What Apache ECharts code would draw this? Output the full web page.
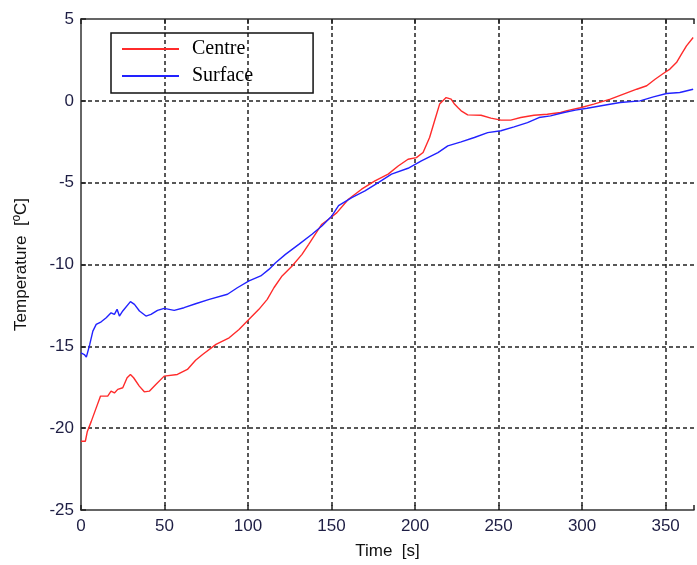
<!DOCTYPE html>
<html>
<head>
<meta charset="utf-8">
<script src="https://cdn.jsdelivr.net/npm/echarts@6/dist/echarts.min.js"></script>
<style>
  html, body { margin: 0; padding: 0; background: #fff; }
  #main { width: 697px; height: 565px; }
</style>
</head>
<body>
<div id="main"></div>
<script>
// data: time [s] and temperature [ºC]
var centreTime = [0, 2.6, 3.8, 6.1, 9.1, 11.7, 16, 18, 20, 22, 25, 27.6, 29.6, 31.5, 34.9, 37.9, 40.9, 44.8, 49.8, 57.7,
    63.7, 68.6, 72.8, 80.8, 88.7, 94.6, 100.6, 106.5, 111.5, 115.5, 120.4, 126.4, 132.3, 136.3, 140.3, 144.2, 150, 153.2,
    160.1, 168, 176, 183.9, 189.9, 195.8, 200.8, 204.8, 208.7, 211.7, 214.7, 218.6, 221.6, 223.6, 225.6, 227.6, 231.5,
    239.5, 245.4, 251.4, 257.3, 263.3, 271.2, 279.2, 287.1, 291, 299, 307, 316.9, 324.8, 332.7, 338.7, 343.7, 348.6,
    352.6, 356.5, 359.5, 362.5, 366.5];
var centreTemp = [-20.8, -20.8, -20.2, -19.6, -18.76, -18.04, -18.04, -17.74, -17.85, -17.63, -17.53, -16.92, -16.72,
    -16.92, -17.43, -17.78, -17.74, -17.33, -16.82, -16.72, -16.41, -15.85, -15.5, -14.88, -14.48, -13.97, -13.35, -12.74,
    -12.13, -11.42, -10.7, -10.09, -9.38, -8.77, -8.15, -7.54, -7.1, -6.83, -6.01, -5.4, -4.89, -4.48, -3.98, -3.57, -3.47,
    -3.16, -2.24, -1.22, -0.2, 0.2, 0.1, -0.2, -0.41, -0.61, -0.86, -0.88, -1.06, -1.18, -1.18, -1.02, -0.88, -0.82, -0.71,
    -0.6, -0.42, -0.2, 0.1, 0.41, 0.71, 0.92, 1.32, 1.67, 1.94, 2.34, 2.85, 3.36, 3.87];

var surfaceTime = [0, 2, 3.2, 5.2, 7.1, 9.1, 12.1, 15.1, 18, 20, 21.6, 23, 25, 29.6, 32, 35, 38.9, 41.9, 45.8, 49.8,
    55.8, 61.7, 68.6, 76.8, 87.7, 93.6, 100.6, 107.6, 112.5, 116.5, 122.4, 130.4, 138.3, 144.2, 150.2, 154.2, 162.1, 170,
    178, 185.9, 195.8, 203.8, 213.7, 219.6, 227.6, 235.5, 243.5, 251.4, 259.3, 267.3, 274.2, 281.1, 289.1, 296, 303,
    314.9, 322.8, 334.7, 342.7, 350.6, 358.5, 366.5];
var surfaceTemp = [-15.4, -15.5, -15.66, -14.9, -14.07, -13.66, -13.5, -13.25, -12.95, -13.05, -12.74, -13.15, -12.84,
    -12.27, -12.44, -12.84, -13.15, -13.05, -12.8, -12.68, -12.8, -12.64, -12.4, -12.13, -11.82, -11.42, -11.0, -10.7,
    -10.3, -9.89, -9.38, -8.77, -8.15, -7.65, -7.03, -6.4, -5.91, -5.5, -5.0, -4.48, -4.12, -3.67, -3.16, -2.75, -2.51,
    -2.24, -1.94, -1.83, -1.59, -1.33, -1.02, -0.92, -0.71, -0.57, -0.45, -0.24, -0.1, 0, 0.24, 0.45, 0.51, 0.71];

var seriesNames = ['Centre', 'Surface'];

function pairs(xs, ys) {
    return xs.map(function (x, i) { return [x, ys[i]]; });
}

var labelColor = '#1e1e44';
var gridLine = { show: true, lineStyle: { color: '#222', width: 1.5, type: [4, 3] } };

var myChart = echarts.init(document.getElementById('main'));
var option = {
    animation: false,
    grid: { left: 81, top: 19, right: 0, bottom: 55 },
    legend: {
        data: seriesNames,
        orient: 'vertical',
        left: 111,
        top: 33,
        padding: [6, 60, 7, 11],
        borderColor: '#111',
        borderWidth: 1.5,
        itemWidth: 57,
        itemHeight: 2,
        itemGap: 7,
        icon: 'rect',
        textStyle: { fontFamily: 'Liberation Serif', fontSize: 20, color: '#000', padding: [0, 0, 0, 8] }
    },
    xAxis: [{
        type: 'value',
        min: 0,
        max: 367,
        interval: 50,
        name: 'Time  [s]',
        nameLocation: 'middle',
        nameGap: 33,
        nameTextStyle: { fontFamily: 'Liberation Sans', fontSize: 17, color: '#111' },
        axisLine: { show: true, onZero: false, lineStyle: { color: '#333', width: 1.5 } },
        axisTick: { show: true, inside: true, length: 5, lineStyle: { color: '#222', width: 1.5 } },
        axisLabel: {
            margin: 8,
            fontFamily: 'Liberation Sans',
            fontSize: 17,
            color: labelColor,
            formatter: function (v) { return v % 50 === 0 ? String(v) : ''; }
        },
        splitLine: Object.assign({ showMinLine: false, showMaxLine: false }, gridLine)
    }, {
        type: 'value',
        position: 'top',
        min: 0,
        max: 367,
        interval: 50,
        axisLine: { show: true, onZero: false, lineStyle: { color: '#333', width: 1.5 } },
        axisTick: { show: true, inside: true, length: 5, lineStyle: { color: '#222', width: 1.5 } },
        axisLabel: { show: false },
        splitLine: { show: false }
    }],
    yAxis: {
        type: 'value',
        min: -25,
        max: 5,
        interval: 5,
        name: 'Temperature  [ºC]',
        nameLocation: 'middle',
        nameGap: 51,
        nameTextStyle: { fontFamily: 'Liberation Sans', fontSize: 17, color: '#111' },
        axisLine: { show: true, onZero: false, lineStyle: { color: '#333', width: 1.5 } },
        axisTick: { show: true, inside: true, length: 5, lineStyle: { color: '#222', width: 1.5 } },
        axisLabel: { margin: 7, fontFamily: 'Liberation Sans', fontSize: 17, color: labelColor },
        splitLine: Object.assign({ showMinLine: false, showMaxLine: false }, gridLine)
    },
    series: [{
        name: seriesNames[0],
        type: 'line',
        showSymbol: false,
        color: '#ff2b2b',
        lineStyle: { width: 1.4 },
        data: pairs(centreTime, centreTemp)
    }, {
        name: seriesNames[1],
        type: 'line',
        showSymbol: false,
        color: '#2222ff',
        lineStyle: { width: 1.4 },
        data: pairs(surfaceTime, surfaceTemp)
    }]
};
myChart.setOption(option);
</script>
</body>
</html>
